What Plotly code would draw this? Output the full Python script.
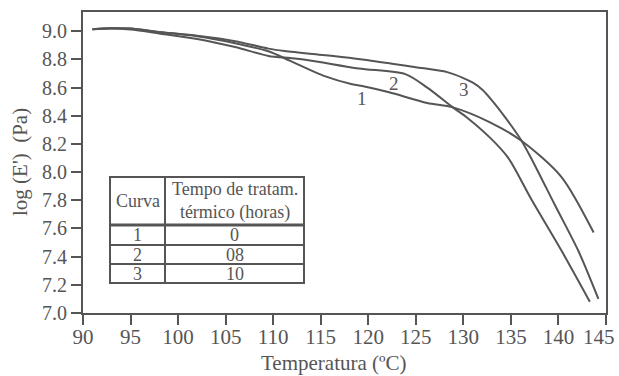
import plotly.graph_objects as go

# ---------------- data ----------------
temp_c1 = [91.0, 93.0, 95.0, 98.0, 102.0, 106.0, 109.5, 111.8, 115.5, 118.3, 119.6, 122.2, 126.2, 128.9, 132.8, 136.1, 140.3, 143.7]
loge_c1 = [9.015, 9.022, 9.02, 8.995, 8.965, 8.915, 8.858, 8.79, 8.68, 8.624, 8.608, 8.567, 8.491, 8.46, 8.354, 8.223, 7.967, 7.571]

temp_c2 = [91.0, 93.0, 95.0, 98.0, 102.0, 106.0, 109.5, 111.8, 113.7, 119.0, 123.9, 126.2, 128.9, 130.3, 132.8, 134.7, 137.1, 140.3, 143.3]
loge_c2 = [9.015, 9.02, 9.012, 8.985, 8.946, 8.888, 8.825, 8.81, 8.795, 8.736, 8.696, 8.6, 8.46, 8.392, 8.245, 8.103, 7.813, 7.445, 7.08]

temp_c3 = [91.0, 93.0, 95.0, 98.0, 102.0, 106.0, 109.5, 111.2, 115.2, 117.2, 120.0, 122.5, 125.0, 128.3, 130.0, 131.0, 132.0, 133.0, 134.5, 136.1, 137.2, 139.6, 142.1, 144.2]
loge_c3 = [9.015, 9.022, 9.02, 8.995, 8.968, 8.93, 8.877, 8.86, 8.832, 8.818, 8.795, 8.77, 8.745, 8.71, 8.668, 8.635, 8.585, 8.51, 8.38, 8.225, 8.09, 7.77, 7.44, 7.10]

curve_ids = ["1", "2", "3"]
treat_hours = ["0", "08", "10"]
label_pos_T = [119.3, 122.7, 130.1]
label_pos_v = [8.52, 8.63, 8.585]

x_ticks = list(range(90, 150, 5))
x_ticktext = [str(v) for v in x_ticks]
y_ticks = [7.0, 7.2, 7.4, 7.6, 7.8, 8.0, 8.2, 8.4, 8.6, 8.8, 9.0]

# ---------------- style ----------------
W, H = 619, 376
L, R, T, B = 83, 606, 12, 313
INK = "#555555"
FONT = "Liberation Serif, Times New Roman, serif"


def px(x):
    return (x - L) / (R - L)


def py(y):
    return (B - y) / (B - T)


def note(x, y, text, font, ref="paper", **kw):
    d = dict(x=x, y=y, xref=ref if ref == "paper" else "x", yref=ref if ref == "paper" else "y",
             text=text, showarrow=False, xanchor="center", yanchor="middle", font=font)
    d.update(kw)
    return d


fig = go.Figure()
for xs, ys in [(temp_c1, loge_c1), (temp_c2, loge_c2), (temp_c3, loge_c3)]:
    fig.add_trace(go.Scatter(x=xs, y=ys, mode="lines",
                             line=dict(color=INK, width=2, shape="spline", smoothing=0.8),
                             showlegend=False, hoverinfo="skip"))

annotations = []
for cid, tx, ty in zip(curve_ids, label_pos_T, label_pos_v):
    annotations.append(note(tx, ty, cid, dict(family=FONT, size=19, color=INK), ref="data"))

# last x tick label sits flush against the right edge (as in the original figure)
xfont = dict(family=FONT, size=21, color=INK)
annotations.append(note(px(617), py(337), x_ticktext[-1], xfont, xanchor="right"))
axis_ticktext = x_ticktext[:-1] + [""]

# axis titles
annotations.append(note(px(334), py(363), "Temperatura (ºC)", dict(family=FONT, size=21, color=INK)))
annotations.append(note(px(20), py(162), "log (E')  (Pa)", dict(family=FONT, size=21, color=INK),
                        textangle=-90))

# ---------------- table (legend) ----------------
tL, tM, tR = 110, 165, 304
row_lines = [177, 225, 245, 264, 283]
shapes = []
shapes.append(dict(type="rect", xref="paper", yref="paper",
                   x0=px(tL), x1=px(tR), y0=py(row_lines[-1]), y1=py(row_lines[0]),
                   line=dict(color=INK, width=2), fillcolor="white", layer="above"))
shapes.append(dict(type="line", xref="paper", yref="paper",
                   x0=px(tM), x1=px(tM), y0=py(row_lines[-1]), y1=py(row_lines[0]),
                   line=dict(color=INK, width=2), layer="above"))
for i, yl in enumerate(row_lines[1:-1]):
    shapes.append(dict(type="line", xref="paper", yref="paper",
                       x0=px(tL), x1=px(tR), y0=py(yl), y1=py(yl),
                       line=dict(color=INK, width=3 if i == 0 else 2), layer="above"))

tfont = dict(family=FONT, size=18, color=INK)
annotations.append(note(px((tL + tM) / 2), py(201), "Curva", tfont))
annotations.append(note(px((tM + tR) / 2), py(201), "Tempo de tratam.<br>térmico (horas)", tfont))
for i, (cid, hrs) in enumerate(zip(curve_ids, treat_hours)):
    yc = (row_lines[i + 1] + row_lines[i + 2]) / 2
    annotations.append(note(px((tL + tM) / 2), py(yc), cid, tfont))
    annotations.append(note(px((tM + tR) / 2), py(yc), hrs, tfont))

fig.update_layout(
    width=W, height=H,
    margin=dict(l=L, r=W - R, t=T, b=H - B, pad=0),
    paper_bgcolor="white", plot_bgcolor="white",
    font=dict(family=FONT, color=INK),
    shapes=shapes, annotations=annotations,
)
fig.update_xaxes(range=[90, 145], tickvals=x_ticks, ticktext=axis_ticktext, ticks="outside",
                 ticklen=10, tickwidth=2, tickcolor=INK, showline=True, linecolor=INK, linewidth=2,
                 mirror=True, showgrid=False, zeroline=False, automargin=False,
                 ticklabelstandoff=-6, tickfont=xfont)
fig.update_yaxes(range=[7.0, 9.137], tickvals=y_ticks, tickformat=".1f", ticks="outside",
                 ticklen=10, tickwidth=2, tickcolor=INK, showline=True, linecolor=INK,
                 linewidth=2, mirror=True, showgrid=False, zeroline=False, automargin=False,
                 tickfont=dict(family=FONT, size=20, color=INK))

fig.write_html("out.html", config={"displayModeBar": False},
               post_script="document.body.style.margin='0';document.body.style.overflow='hidden';")
